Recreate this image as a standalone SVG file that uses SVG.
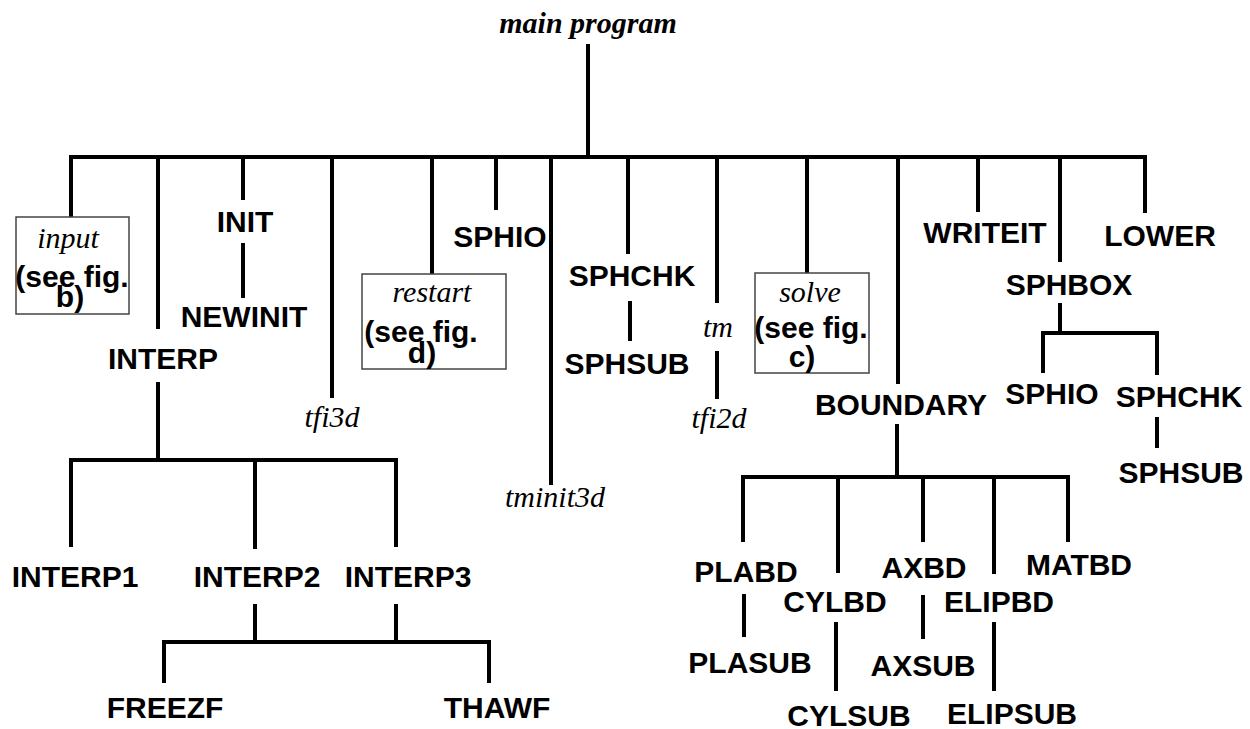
<svg xmlns="http://www.w3.org/2000/svg" width="1250" height="729" viewBox="0 0 1250 729">
<style>
.c line, .c path { stroke:#000; stroke-width:4; fill:none; }
.s { font-family:"Liberation Sans", Arial, sans-serif; font-weight:bold; font-size:30px; fill:#000; text-anchor:middle; }
.i { font-family:"Liberation Serif", "Times New Roman", serif; font-style:italic; font-size:30px; fill:#000; text-anchor:middle; }
.b { font-weight:bold; }
.box { fill:#fff; stroke:#444; stroke-width:1.5; }
</style>
<rect width="1250" height="729" fill="#fff"/>
<g id="connectors" class="c">
<line x1="588" y1="44" x2="588" y2="157"/>
<line x1="69" y1="157" x2="1147" y2="157"/>
<line x1="71" y1="157" x2="71" y2="217"/>
<line x1="158" y1="157" x2="158" y2="329"/>
<line x1="243" y1="157" x2="243" y2="200"/>
<line x1="332" y1="157" x2="332" y2="398"/>
<line x1="432" y1="157" x2="432" y2="274"/>
<line x1="496" y1="157" x2="496" y2="210"/>
<line x1="551" y1="157" x2="551" y2="485"/>
<line x1="628" y1="157" x2="628" y2="254"/>
<line x1="717" y1="157" x2="717" y2="303"/>
<line x1="807" y1="157" x2="807" y2="273"/>
<line x1="898" y1="157" x2="898" y2="384"/>
<line x1="978" y1="157" x2="978" y2="212"/>
<line x1="1060" y1="157" x2="1060" y2="262"/>
<line x1="1145" y1="157" x2="1145" y2="213"/>
<line x1="243" y1="243" x2="243" y2="298"/>
<line x1="158" y1="382" x2="158" y2="460"/>
<line x1="69" y1="460" x2="398" y2="460"/>
<line x1="71" y1="460" x2="71" y2="547"/>
<line x1="255" y1="460" x2="255" y2="549"/>
<line x1="396" y1="460" x2="396" y2="547"/>
<line x1="255" y1="604" x2="255" y2="642"/>
<line x1="396" y1="604" x2="396" y2="642"/>
<line x1="162" y1="642" x2="491" y2="642"/>
<line x1="164" y1="642" x2="164" y2="683"/>
<line x1="489" y1="642" x2="489" y2="683"/>
<line x1="630" y1="301" x2="630" y2="341"/>
<line x1="717" y1="351" x2="717" y2="399"/>
<line x1="897" y1="424" x2="897" y2="477"/>
<line x1="741" y1="477" x2="1070" y2="477"/>
<line x1="743" y1="477" x2="743" y2="542"/>
<line x1="838" y1="477" x2="838" y2="573"/>
<line x1="923" y1="477" x2="923" y2="542"/>
<line x1="994" y1="477" x2="994" y2="574"/>
<line x1="1068" y1="477" x2="1068" y2="542"/>
<line x1="744" y1="594" x2="744" y2="637"/>
<line x1="836" y1="622" x2="836" y2="691"/>
<line x1="923" y1="595" x2="923" y2="639"/>
<line x1="994" y1="622" x2="994" y2="691"/>
<line x1="1060" y1="303" x2="1060" y2="333"/>
<line x1="1041" y1="333" x2="1159" y2="333"/>
<line x1="1043" y1="333" x2="1043" y2="373"/>
<line x1="1157" y1="333" x2="1157" y2="375"/>
<line x1="1157" y1="417" x2="1157" y2="448"/>
</g>
<g id="main"><text class="i b" x="588" y="33">main program</text></g>
<g id="input">
<rect class="box" x="16" y="217" width="113" height="97"/>
<text class="i" x="68" y="248">input</text>
<text class="s" x="72" y="287">(see fig.</text>
<text class="s" x="70" y="307">b)</text>
</g>
<g id="init"><text class="s" x="245" y="232">INIT</text></g>
<g id="newinit"><text class="s" x="244" y="327">NEWINIT</text></g>
<g id="interp"><text class="s" x="163" y="369">INTERP</text></g>
<g id="tfi3d"><text class="i" x="332" y="427">tfi3d</text></g>
<g id="restart">
<rect class="box" x="362" y="274" width="144" height="95"/>
<text class="i" x="432" y="302">restart</text>
<text class="s" x="421" y="342">(see fig.</text>
<text class="s" x="422" y="363">d)</text>
</g>
<g id="sphio1"><text class="s" x="500" y="247">SPHIO</text></g>
<g id="tminit3d"><text class="i" x="555" y="507">tminit3d</text></g>
<g id="sphchk1"><text class="s" x="632" y="286">SPHCHK</text></g>
<g id="sphsub1"><text class="s" x="627" y="374">SPHSUB</text></g>
<g id="tm"><text class="i" x="718" y="337">tm</text></g>
<g id="tfi2d"><text class="i" x="719" y="428">tfi2d</text></g>
<g id="solve">
<rect class="box" x="755" y="273" width="114" height="100"/>
<text class="i" x="810" y="302">solve</text>
<text class="s" x="811" y="338">(see fig.</text>
<text class="s" x="802" y="367">c)</text>
</g>
<g id="boundary"><text class="s" x="901" y="415">BOUNDARY</text></g>
<g id="writeit"><text class="s" x="985" y="243">WRITEIT</text></g>
<g id="lower"><text class="s" x="1160" y="246">LOWER</text></g>
<g id="sphbox"><text class="s" x="1069" y="295">SPHBOX</text></g>
<g id="sphio2"><text class="s" x="1052" y="404">SPHIO</text></g>
<g id="sphchk2"><text class="s" x="1179" y="407">SPHCHK</text></g>
<g id="sphsub2"><text class="s" x="1181" y="483">SPHSUB</text></g>
<g id="interp1"><text class="s" x="75" y="587">INTERP1</text></g>
<g id="interp2"><text class="s" x="257" y="587">INTERP2</text></g>
<g id="interp3"><text class="s" x="408" y="587">INTERP3</text></g>
<g id="freezf"><text class="s" x="165" y="718">FREEZF</text></g>
<g id="thawf"><text class="s" x="497" y="718">THAWF</text></g>
<g id="plabd"><text class="s" x="746" y="582">PLABD</text></g>
<g id="plasub"><text class="s" x="750" y="673">PLASUB</text></g>
<g id="cylbd"><text class="s" x="835" y="612">CYLBD</text></g>
<g id="cylsub"><text class="s" x="849" y="726">CYLSUB</text></g>
<g id="axbd"><text class="s" x="924" y="578">AXBD</text></g>
<g id="axsub"><text class="s" x="923" y="676">AXSUB</text></g>
<g id="elipbd"><text class="s" x="999" y="612">ELIPBD</text></g>
<g id="elipsub"><text class="s" x="1012" y="724">ELIPSUB</text></g>
<g id="matbd"><text class="s" x="1079" y="575">MATBD</text></g>
</svg>
